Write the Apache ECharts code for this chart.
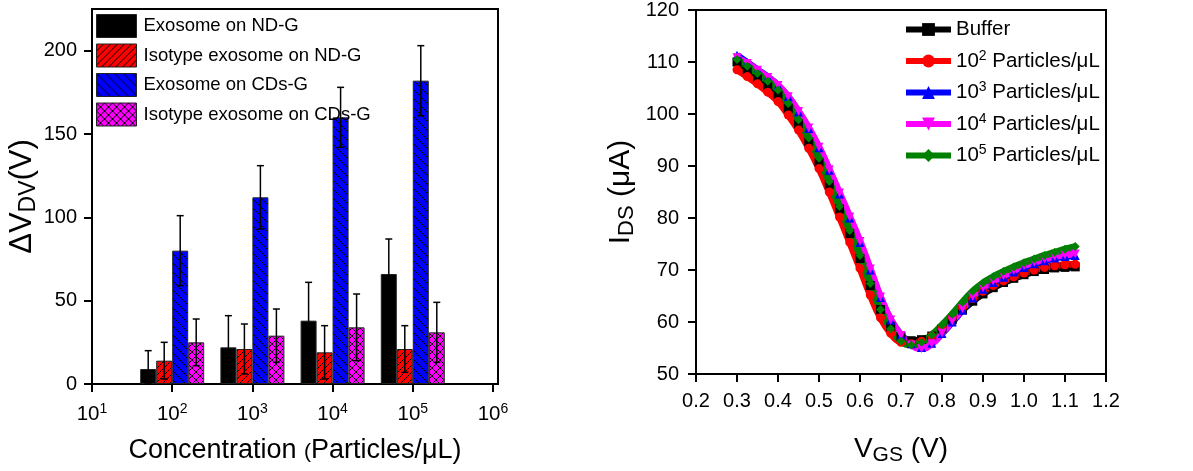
<!DOCTYPE html>
<html><head><meta charset="utf-8">
<script src="https://cdn.jsdelivr.net/npm/echarts@6/dist/echarts.min.js"></script>
<style>html,body{margin:0;padding:0;background:#fff}#c{width:1193px;height:471px}</style>
</head><body><div id="c"></div>
<script>
// ---------- Left chart data ----------
const concExp = [2, 3, 4, 5];            // log10(concentration)
const xTickExp = [1, 2, 3, 4, 5, 6];
const yTicksLeft = [0, 50, 100, 150, 200];
const barNames = ['Exosome on ND-G', 'Isotype exosome on ND-G', 'Exosome on CDs-G', 'Isotype exosome on CDs-G'];
const exoND = [9, 22, 38, 66];
const exoNDErr = [11, 19, 23, 21];
const isoND = [14, 21, 19, 21];
const isoNDErr = [11, 15, 16, 14];
const exoCD = [80, 112, 160, 182];
const exoCDErr = [21, 19, 18, 21];
const isoCD = [25, 29, 34, 31];
const isoCDErr = [14, 16, 20, 18];

// ---------- Right chart data ----------
const vgs = [0.300,0.325,0.350,0.375,0.400,0.425,0.450,0.475,0.500,0.525,0.550,0.575,0.600,0.625,0.650,0.675,0.700,0.725,0.750,0.775,0.800,0.825,0.850,0.875,0.900,0.925,0.950,0.975,1.000,1.025,1.050,1.075,1.100,1.125];
const idsBuffer = [110.0,108.5,107.0,105.4,103.6,101.1,98.1,94.6,90.7,86.4,81.7,77.0,72.2,67.0,62.4,59.1,57.2,56.4,56.6,57.3,58.7,60.4,62.3,64.0,65.4,66.6,67.6,68.4,69.1,69.7,70.1,70.4,70.5,70.6];
const ids1e2 = [108.5,107.2,105.8,104.2,102.4,99.8,96.9,93.4,89.5,85.0,80.2,75.3,70.3,65.2,60.8,57.8,56.1,55.8,56.3,57.3,59.0,60.9,62.8,64.5,65.9,67.0,67.9,68.7,69.4,70.0,70.5,70.8,71.0,71.1];
const ids1e3 = [111.3,109.9,108.5,107.1,105.5,103.3,100.4,97.2,93.5,89.2,84.6,80.0,75.3,70.0,64.7,60.4,57.5,55.8,55.1,55.9,57.8,60.0,62.3,64.6,66.3,67.6,68.6,69.6,70.5,71.2,71.8,72.3,72.6,72.8];
const ids1e4 = [110.8,109.7,108.4,107.0,105.5,103.3,100.5,97.3,93.6,89.3,84.8,80.2,75.5,70.2,64.8,60.4,57.4,55.6,54.9,55.8,57.9,60.2,62.6,64.9,66.6,67.9,68.9,69.9,70.8,71.5,72.1,72.6,72.9,73.1];
const ids1e5 = [110.5,109.2,107.8,106.3,104.6,102.0,98.9,95.4,91.5,87.0,82.2,77.6,72.8,67.4,62.4,58.7,56.3,55.6,56.1,57.5,59.4,61.5,63.8,65.9,67.5,68.7,69.7,70.6,71.4,72.1,72.8,73.4,74.0,74.5];
const lineNames = ['Buffer', '10^2 Particles/μL', '10^3 Particles/μL', '10^4 Particles/μL', '10^5 Particles/μL'];

// ---------- helpers ----------
const FONT = '"Liberation Sans", Arial, sans-serif';
function pattern(bg, kind, p) {
  const c = document.createElement('canvas');
  c.width = p; c.height = p;
  const g = c.getContext('2d');
  g.fillStyle = bg; g.fillRect(0, 0, p, p);
  g.strokeStyle = '#000'; g.lineWidth = 1;
  const seg = (a, b, cc, d) => { g.beginPath(); g.moveTo(a, b); g.lineTo(cc, d); g.stroke(); };
  if (kind === 'fwd' || kind === 'cross') {
    seg(-1, p + 1, p + 1, -1); seg(-2, 2, 2, -2); seg(p - 2, p + 2, p + 2, p - 2);
  }
  if (kind === 'back' || kind === 'cross') {
    seg(-1, -1, p + 1, p + 1); seg(-2, p - 2, 2, p + 2); seg(p - 2, -2, p + 2, 2);
  }
  return { image: c, repeat: 'repeat' };
}
const fills = [
  '#000000',
  pattern('#ff0000', 'fwd', 7),
  pattern('#0000ff', 'back', 9),
  pattern('#ff00ff', 'cross', 8)
];
const barVals = [exoND, isoND, exoCD, isoCD];
const barErrs = [exoNDErr, isoNDErr, exoCDErr, isoCDErr];
const BAR_W = 16;

const barSeries = barVals.map((vals, k) => ({
  name: barNames[k], type: 'bar', xAxisIndex: 0, yAxisIndex: 0,
  barWidth: BAR_W, barGap: '0%',
  itemStyle: { color: fills[k], borderColor: '#222', borderWidth: 1 },
  data: concExp.map((c, i) => [c, vals[i]])
}));
const errSeries = barVals.map((vals, k) => ({
  type: 'custom', xAxisIndex: 0, yAxisIndex: 0, z: 5, silent: true,
  data: concExp.map((c, i) => [c, vals[i], barErrs[k][i]]),
  renderItem: (params, api) => {
    const x = api.value(0), v = api.value(1), e = api.value(2);
    const cx = api.coord([x, v])[0] + (k - 1.5) * BAR_W;
    const yT = api.coord([x, v + e])[1];
    const yB = api.coord([x, Math.max(v - e, 0)])[1];
    const st = { stroke: '#000', lineWidth: 1.5 };
    const cap = 3.5;
    return { type: 'group', children: [
      { type: 'line', shape: { x1: cx, y1: yT, x2: cx, y2: yB }, style: st },
      { type: 'line', shape: { x1: cx - cap, y1: yT, x2: cx + cap, y2: yT }, style: st },
      { type: 'line', shape: { x1: cx - cap, y1: yB, x2: cx + cap, y2: yB }, style: st }
    ]};
  }
}));

const lineColors = ['#000000', '#ff0000', '#0000ff', '#ff00ff', '#008000'];
const lineSymbols = ['rect', 'circle', 'triangle', 'path://M0,0 L10,0 L5,9 Z', 'diamond'];
const lineData = [idsBuffer, ids1e2, ids1e3, ids1e4, ids1e5];
const lineSeries = lineData.map((vals, k) => ({
  name: lineNames[k], type: 'line', xAxisIndex: 1, yAxisIndex: 1,
  smooth: true, symbol: lineSymbols[k], symbolSize: 9,
  showSymbol: true,
  lineStyle: { color: lineColors[k], width: 7 },
  itemStyle: { color: lineColors[k] },
  data: vgs.map((x, i) => [x, vals[i]])
}));

const axisBase = {
  axisLine: { show: true, onZero: false, lineStyle: { color: '#000', width: 2 } },
  axisTick: { show: true, inside: false, length: 8, lineStyle: { color: '#000', width: 2 } },
  splitLine: { show: false },
  axisLabel: { color: '#000', fontSize: 20, fontFamily: FONT }
};

const option = {
  animation: false,
  backgroundColor: '#fff',
  grid: [
    { left: 92, top: 9, width: 406, height: 375, show: true, borderColor: '#000', borderWidth: 2, backgroundColor: 'transparent' },
    { left: 696, top: 8, width: 410, height: 376, show: true, borderColor: '#000', borderWidth: 2, backgroundColor: 'transparent' }
  ],
  legend: [
    {
      data: barNames, orient: 'vertical', left: 96, top: 14, padding: 0, icon: 'rect',
      itemWidth: 40, itemHeight: 23, itemGap: 5.5, itemStyle: { borderColor: '#222', borderWidth: 1 },
      textStyle: { color: '#000', fontSize: 18.5, fontFamily: FONT, padding: [0, 0, 0, 2] }
    },
    {
      data: lineNames, orient: 'vertical', left: 903, top: 19, padding: 0,
      itemWidth: 45, itemHeight: 16, itemGap: 9,
      lineStyle: { width: 6 },
      formatter: n => {
        const m = n.match(/^10\^(\d) (.*)$/);
        return m ? '{t|10}{s|' + m[1] + '}{t| ' + m[2] + '}' : '{t|' + n + '}';
      },
      textStyle: { color: '#000', fontFamily: FONT, padding: [0, 0, 0, 0],
        rich: { t: { fontSize: 20.5, fontFamily: FONT, color: '#000' },
                s: { fontSize: 14, fontFamily: FONT, color: '#000', padding: [0, 0, 10, 0] } } }
    }
  ],
  xAxis: [
    Object.assign({}, axisBase, {
      type: 'value', gridIndex: 0, min: 1, max: 6.0625, interval: 1,
      axisTick: Object.assign({}, axisBase.axisTick, { customValues: xTickExp }),
      axisLabel: Object.assign({}, axisBase.axisLabel, {
        customValues: xTickExp, margin: 18,
        formatter: v => '{b|10}{s|' + v + '}',
        rich: { b: { fontSize: 20.5, fontFamily: FONT, color: '#000' },
                s: { fontSize: 14, fontFamily: FONT, color: '#000', padding: [0, 0, 10, 0] } }
      }),
      name: '{n|Concentration }{p|(}{n|Particles/μL)}', nameLocation: 'middle', nameGap: 53,
      nameTextStyle: { rich: { n: { fontSize: 27, fontFamily: FONT, color: '#000' },
                              p: { fontSize: 21, fontFamily: FONT, color: '#000', padding: [4, 0, 0, 0] } } }
    }),
    Object.assign({}, axisBase, {
      type: 'value', gridIndex: 1, min: 0.2, max: 1.2, interval: 0.1,
      axisLabel: Object.assign({}, axisBase.axisLabel, { margin: 17, formatter: v => v.toFixed(1) }),
      name: '{n|V}{s|GS}{n| (V)}', nameLocation: 'middle', nameGap: 59,
      nameTextStyle: { rich: { n: { fontSize: 28, fontFamily: FONT, color: '#000' },
                              s: { fontSize: 21, fontFamily: FONT, color: '#000', padding: [12, 0, 0, 0] } } }
    })
  ],
  yAxis: [
    Object.assign({}, axisBase, {
      type: 'value', gridIndex: 0, min: 0, max: 225, interval: 50,
      axisTick: Object.assign({}, axisBase.axisTick, { customValues: yTicksLeft }),
      axisLabel: Object.assign({}, axisBase.axisLabel, { customValues: yTicksLeft, margin: 15 }),
      name: '{n|ΔV}{s|DV}{n|(V)}', nameLocation: 'middle', nameGap: 51,
      nameTextStyle: { rich: { n: { fontSize: 31, fontFamily: FONT, color: '#000' },
                              s: { fontSize: 23, fontFamily: FONT, color: '#000', padding: [12, 0, 0, 0] } } }
    }),
    Object.assign({}, axisBase, {
      type: 'value', gridIndex: 1, min: 50, max: 120, interval: 10,
      axisLabel: Object.assign({}, axisBase.axisLabel, { margin: 17 }),
      name: '{n|I}{s|DS}{n| (μA)}', nameLocation: 'middle', nameGap: 58,
      nameTextStyle: { rich: { n: { fontSize: 30, fontFamily: FONT, color: '#000' },
                              s: { fontSize: 22, fontFamily: FONT, color: '#000', padding: [12, 0, 0, 0] } } }
    })
  ],
  series: [...barSeries, ...errSeries, ...lineSeries]
};
const chart = echarts.init(document.getElementById('c'), null, { renderer: 'canvas' });
chart.setOption(option);
</script></body></html>
